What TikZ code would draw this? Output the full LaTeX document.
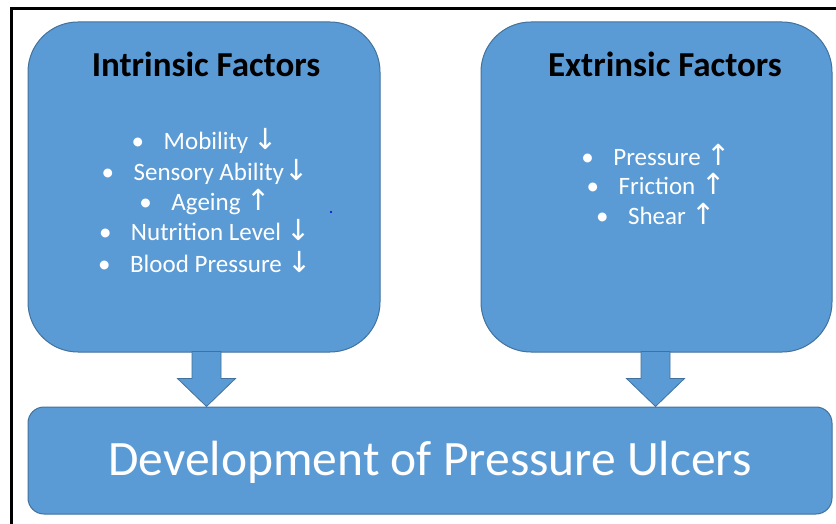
\documentclass[tikz,border=0pt]{standalone}
\usepackage{fontspec}
\setmainfont{Carlito}
\newfontfamily\arrfont{DejaVu Sans}
\newcommand{\myarr}[1]{{\arrfont\fontsize{29}{30}\selectfont #1}}
\usetikzlibrary{calc}
\definecolor{boxblue}{RGB}{91,155,213}
\definecolor{boxline}{RGB}{65,113,156}
\begin{document}
\begin{tikzpicture}[x=1pt,y=1pt,
  panel/.style={draw=boxline, fill=boxblue, line width=1pt, rounded corners=50pt, inner sep=0pt},
  devbox/.style={draw=boxline, fill=boxblue, line width=1pt, rounded corners=16pt, inner sep=0pt},
  title/.style={anchor=base, font=\fontsize{35}{42}\selectfont\bfseries, text=black, inner sep=0pt},
  item/.style={anchor=base, font=\fontsize{25}{30}\selectfont, text=white, inner sep=0pt},
  devtext/.style={anchor=base, font=\fontsize{49.5}{59}\selectfont, text=white, inner sep=0pt},
  blockarrow/.style={draw=boxline, fill=boxblue, line width=0.8pt, line join=miter}]
\useasboundingbox (0,0) rectangle (836,523);
\fill[white] (0,0) rectangle (836,523);
\draw[line width=3pt] (11.5,-5) -- (11.5,514.5) -- (850,514.5);

\node[panel, minimum width=352pt, minimum height=330pt] (intr) at (204,336) {};
\node[panel, minimum width=351pt, minimum height=330pt] (extr) at (656.5,336) {};
\node[devbox, minimum width=804pt, minimum height=107pt] (dev) at (430,62.5) {};

\node[title] (ti) at (206,446) {Intrinsic Factors};
\node[title] (te) at (665,446) {Extrinsic Factors};

\node[item] (i1) at (205,373) {\makebox[32pt][l]{•}Mobility \myarr{↓}};
\node[item] (i2) at (205,342) {\makebox[32pt][l]{•}Sensory Ability\myarr{↓}};
\node[item] (i3) at (205,312) {\makebox[32pt][l]{•}Ageing \myarr{↑}};
\node[item] (i4) at (205,282) {\makebox[32pt][l]{•}Nutrition Level \myarr{↓}};
\node[item] (i5) at (205,251) {\makebox[32pt][l]{•}Blood Pressure \myarr{↓}};

\node[item] (e1) at (656,357) {\makebox[32pt][l]{•}Pressure \myarr{↑}};
\node[item] (e2) at (656,328) {\makebox[32pt][l]{•}Friction \myarr{↑}};
\node[item] (e3) at (656,298) {\makebox[32pt][l]{•}Shear \myarr{↑}};

\node[devtext] (dt) at (430,48) {Development of Pressure Ulcers};

\draw[blockarrow] let \p1=($(intr.south)+(2.5,0)$), \p2=(dev.north) in
  (\x1-14.5,\y1+1) -- (\x1+14.5,\y1+1) -- (\x1+14.5,\y2+28) -- (\x1+29,\y2+28)
  -- (\x1,\y2) -- (\x1-29,\y2+28) -- (\x1-14.5,\y2+28) -- cycle;
\draw[blockarrow] let \p1=($(extr.south)+(-1,0)$), \p2=(dev.north) in
  (\x1-14.5,\y1+1) -- (\x1+14.5,\y1+1) -- (\x1+14.5,\y2+28) -- (\x1+29,\y2+28)
  -- (\x1,\y2) -- (\x1-29,\y2+28) -- (\x1-14.5,\y2+28) -- cycle;

\fill[blue!85!black] (331,311) circle (1.1pt);
\end{tikzpicture}
\end{document}
